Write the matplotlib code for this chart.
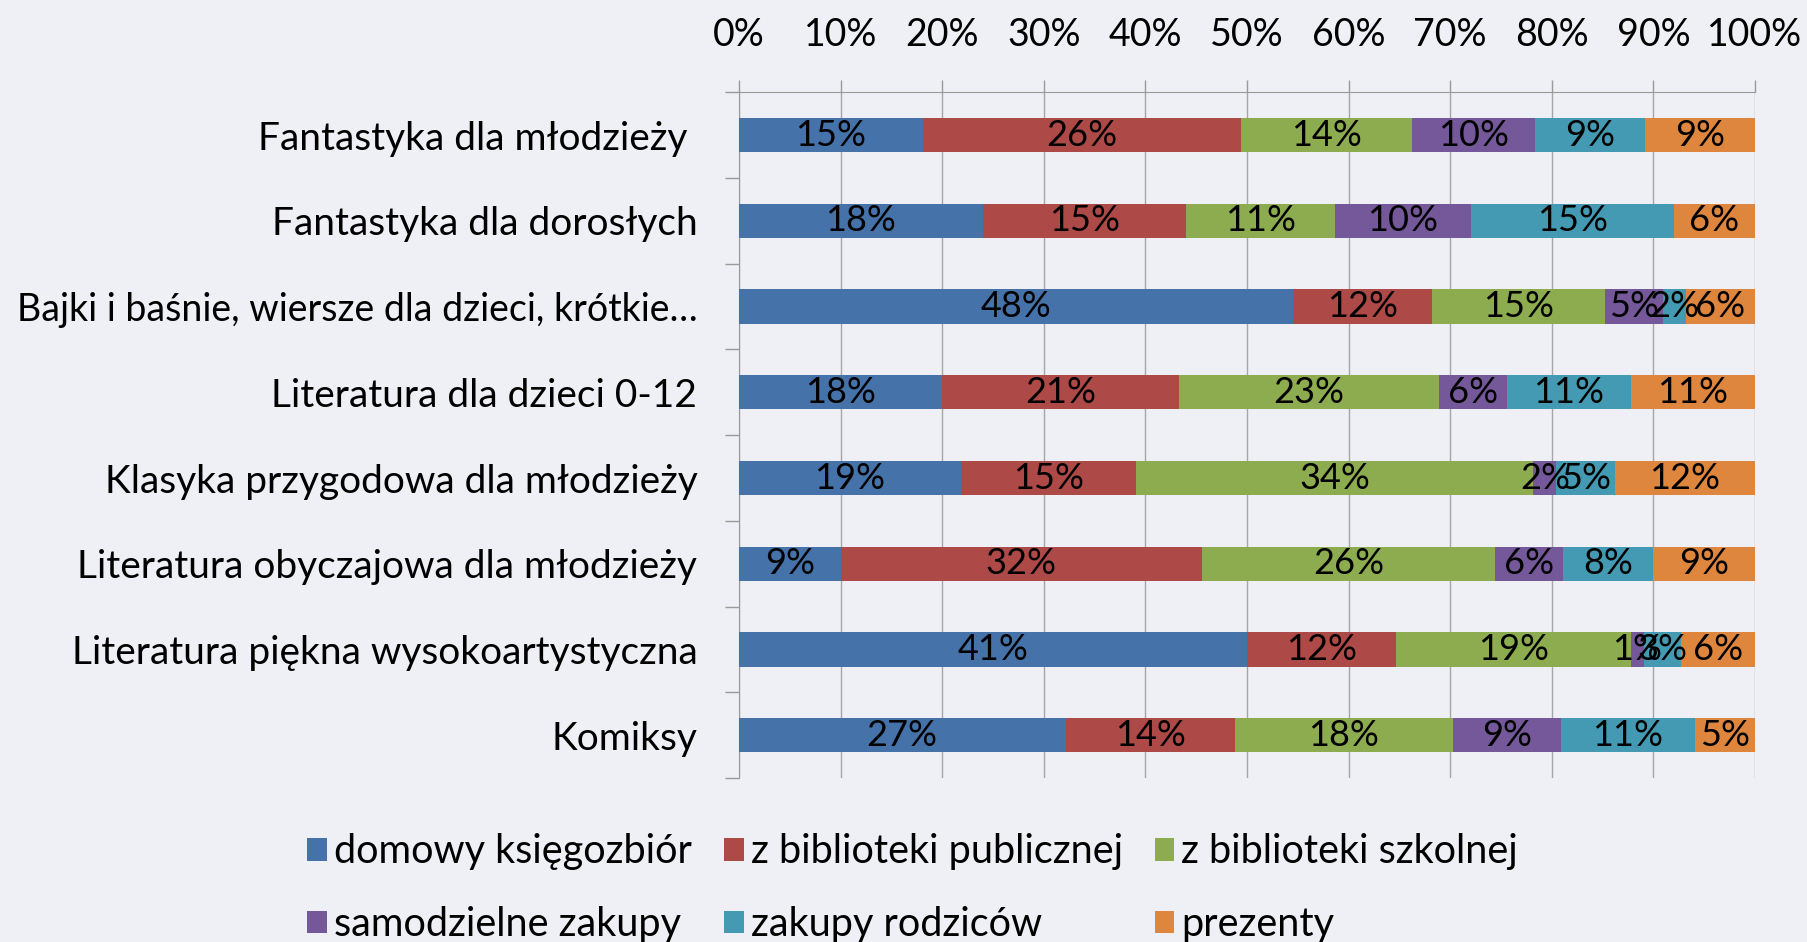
import numpy as np
import matplotlib
matplotlib.use('Agg')
import matplotlib.pyplot as plt

plt.rcParams['font.family'] = ['Lato', 'DejaVu Sans']

# kategorie (od góry) i udziały źródeł w %
categories = ["Fantastyka dla młodzieży ", "Fantastyka dla dorosłych",
              "Bajki i baśnie, wiersze dla dzieci, krótkie…",
              "Literatura dla dzieci 0-12", "Klasyka przygodowa dla młodzieży",
              "Literatura obyczajowa dla młodzieży",
              "Literatura piękna wysokoartystyczna", "Komiksy"]
series = ["domowy księgozbiór", "z biblioteki publicznej", "z biblioteki szkolnej",
          "samodzielne zakupy", "zakupy rodziców", "prezenty"]
domowy = [15, 18, 48, 18, 19, 9, 41, 27]
publiczna = [26, 15, 12, 21, 15, 32, 12, 14]
szkolna = [14, 11, 15, 23, 34, 26, 19, 18]
samodzielne = [10, 10, 5, 6, 2, 6, 1, 9]
rodzice = [9, 15, 2, 11, 5, 8, 3, 11]
prezenty = [9, 6, 6, 11, 12, 9, 6, 5]
colors = ['#4572A8', '#AD4946', '#8DAB4F', '#745899', '#449AB2', '#DE863E']
xticks = np.arange(0, 1.01, 0.1)
xticklabels = [f"{int(round(t * 100))}%" for t in xticks]

BG = '#EFF0F5'
vals = np.array([domowy, publiczna, szkolna, samodzielne, rodzice, prezenty], float)
shares = vals / vals.sum(axis=0)   # słupki skumulowane do 100%
y = np.arange(len(categories))

fig = plt.figure(figsize=(18.08, 9.42), dpi=100, facecolor=BG)
ax = fig.add_axes([0.4087, 0.174, 0.5620, 0.728], facecolor=BG)

left = np.zeros(len(categories))
handles = []
for k in range(len(series)):
    b = ax.barh(y, shares[k], left=left, height=0.4, color=colors[k],
                label=series[k], zorder=3)
    handles.append(b)
    for i in range(len(categories)):
        ax.text(left[i] + shares[k][i] / 2, y[i], f"{int(vals[k][i])}%",
                ha='center', va='center', fontsize=26, color='black', zorder=4)
    left += shares[k]

ax.set_ylim(len(categories) - 0.5, -0.5)
ax.set_xlim(0, 1)
ax.xaxis.tick_top()
ax.set_xticks(xticks)
ax.set_xticklabels(xticklabels, fontsize=27)
ax.tick_params(axis='x', length=9, width=1, color='#999999', pad=19)
ax.set_yticks(np.arange(-0.5, len(categories), 1.0))
ax.set_yticklabels([])
ax.set_yticks(y, minor=True)
ylabels = ax.set_yticklabels(categories, minor=True, fontsize=28)
ylabels[2].set_fontsize(27)   # najdłuższa etykieta - mieści się przy lewej krawędzi
ax.tick_params(axis='y', which='major', length=10, width=1, color='#999999')
ax.tick_params(axis='y', which='minor', length=0, pad=30)
ax.grid(axis='x', color='#A6A6A6', lw=1, zorder=0)
for s in ['right', 'bottom']:
    ax.spines[s].set_visible(False)
for s in ['top', 'left']:
    ax.spines[s].set_color('#999999')

# legenda w dwóch wierszach (ncol=3 wypełnia kolumnami)
order = [0, 3, 1, 4, 2, 5]
fig.legend([handles[i] for i in order], [series[i] for i in order],
           loc='center left', bbox_to_anchor=(0.170, 0.057), ncol=3,
           frameon=False, fontsize=28.5, handlelength=0.5, handleheight=0.5,
           handletextpad=0.18, columnspacing=0.8, labelspacing=0.9,
           borderpad=0, borderaxespad=0)

fig.savefig("out.png", dpi=100, facecolor=BG)
